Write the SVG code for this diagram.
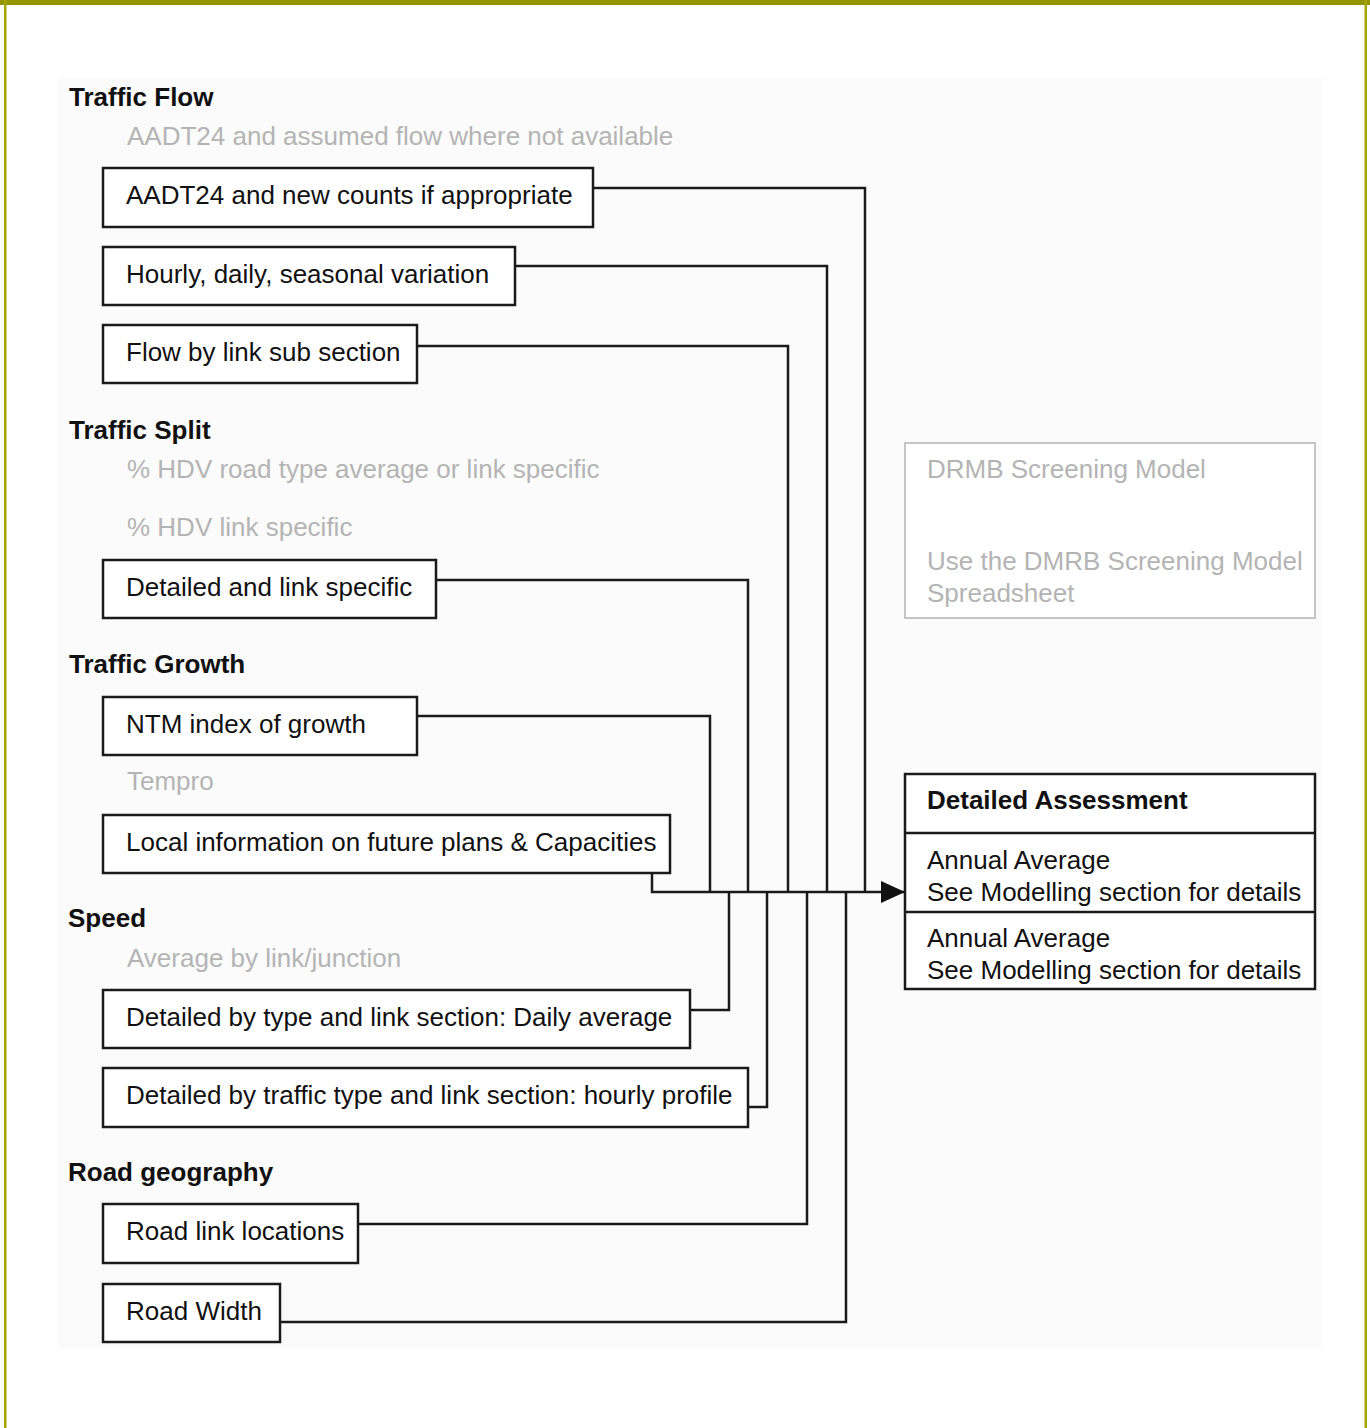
<svg xmlns="http://www.w3.org/2000/svg" width="1370" height="1428" viewBox="0 0 1370 1428">
<defs>
<style>
.t{font-family:"Liberation Sans",Arial,sans-serif;font-size:26px;fill:#111}
.h{font-family:"Liberation Sans",Arial,sans-serif;font-size:26px;font-weight:bold;fill:#111}
.g{font-family:"Liberation Sans",Arial,sans-serif;font-size:26px;fill:#b4b4b4}
.box{fill:#fff;stroke:#1a1a1a;stroke-width:2.5}
.gbox{fill:#fff;stroke:#c4c4c4;stroke-width:2}
.c{fill:none;stroke:#1a1a1a;stroke-width:2.5}
</style>
<marker id="arr" markerWidth="24" markerHeight="24" refX="24" refY="12" orient="auto" markerUnits="userSpaceOnUse" viewBox="0 0 24 24">
<path d="M0,1 L24,12 L0,23 Z" fill="#111"/>
</marker>
</defs>
<rect x="0" y="0" width="1370" height="1428" fill="#fff"/>
<rect x="58" y="78" width="1264" height="1270" fill="#fbfbfb"/>
<rect x="0" y="0" width="1370" height="5" fill="#939400"/>
<rect x="4" y="0" width="2.5" height="1428" fill="#a3a500"/>
<rect x="1364.5" y="0" width="2.5" height="1428" fill="#a3a500"/>

<g id="labels">
<text class="h" x="69" y="106">Traffic Flow</text>
<text class="g" x="127" y="145">AADT24 and assumed flow where not available</text>
<text class="h" x="69" y="439">Traffic Split</text>
<text class="g" x="127" y="478">% HDV road type average or link specific</text>
<text class="g" x="127" y="536">% HDV link specific</text>
<text class="h" x="69" y="673">Traffic Growth</text>
<text class="g" x="127" y="790">Tempro</text>
<text class="h" x="68" y="927">Speed</text>
<text class="g" x="127" y="967">Average by link/junction</text>
<text class="h" x="68" y="1181">Road geography</text>
</g>

<g id="connectors">
<polyline class="c" points="593,188 865,188 865,892"/>
<polyline class="c" points="515,266 827,266 827,892"/>
<polyline class="c" points="417,346 788,346 788,892"/>
<polyline class="c" points="436,580 748,580 748,892"/>
<polyline class="c" points="417,716 710,716 710,892"/>
<polyline class="c" points="690,1010 729,1010 729,892"/>
<polyline class="c" points="748,1107 767,1107 767,892"/>
<polyline class="c" points="358,1224 807,1224 807,892"/>
<polyline class="c" points="280,1322 846,1322 846,892"/>
<polyline class="c" points="652,873 652,892 905,892" marker-end="url(#arr)"/>
</g>

<g id="n-aadt"><rect class="box" x="103" y="168" width="490" height="59"/><text class="t" x="126" y="204">AADT24 and new counts if appropriate</text></g>
<g id="n-hourly"><rect class="box" x="103" y="247" width="412" height="58"/><text class="t" x="126" y="283">Hourly, daily, seasonal variation</text></g>
<g id="n-flowlink"><rect class="box" x="103" y="325" width="314" height="58"/><text class="t" x="126" y="361">Flow by link sub section</text></g>
<g id="n-detlink"><rect class="box" x="103" y="560" width="333" height="58"/><text class="t" x="126" y="596">Detailed and link specific</text></g>
<g id="n-ntm"><rect class="box" x="103" y="697" width="314" height="58"/><text class="t" x="126" y="733">NTM index of growth</text></g>
<g id="n-local"><rect class="box" x="103" y="815" width="567" height="58"/><text class="t" x="126" y="851">Local information on future plans &amp; Capacities</text></g>
<g id="n-daily"><rect class="box" x="103" y="990" width="587" height="58"/><text class="t" x="126" y="1026">Detailed by type and link section: Daily average</text></g>
<g id="n-hprofile"><rect class="box" x="103" y="1068" width="645" height="59"/><text class="t" x="126" y="1104">Detailed by traffic type and link section: hourly profile</text></g>
<g id="n-roadlink"><rect class="box" x="103" y="1204" width="255" height="59"/><text class="t" x="126" y="1240">Road link locations</text></g>
<g id="n-roadwidth"><rect class="box" x="103" y="1284" width="177" height="58"/><text class="t" x="126" y="1320">Road Width</text></g>

<g id="n-drmb">
<rect class="gbox" x="905" y="443" width="410" height="175"/>
<text class="g" x="927" y="478">DRMB Screening Model</text>
<text class="g" x="927" y="570">Use the DMRB Screening Model</text>
<text class="g" x="927" y="602">Spreadsheet</text>
</g>

<g id="n-detailed">
<rect class="box" x="905" y="774" width="410" height="215"/>
<line class="c" x1="905" y1="833" x2="1315" y2="833"/>
<line class="c" x1="905" y1="912" x2="1315" y2="912"/>
<text class="h" x="927" y="809">Detailed Assessment</text>
<text class="t" x="927" y="869">Annual Average</text>
<text class="t" x="927" y="901">See Modelling section for details</text>
<text class="t" x="927" y="947">Annual Average</text>
<text class="t" x="927" y="979">See Modelling section for details</text>
</g>
</svg>
